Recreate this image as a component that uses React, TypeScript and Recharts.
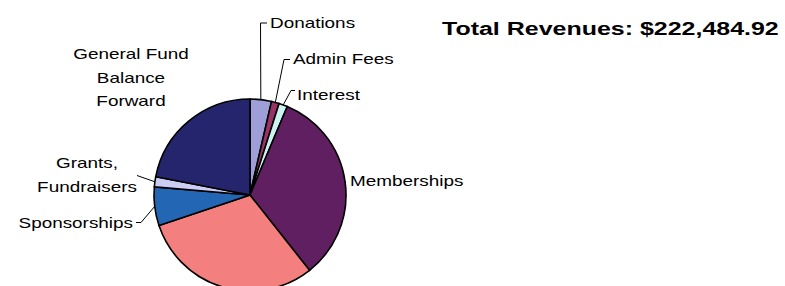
import React from "react";
import { PieChart, Pie, Cell } from "recharts";

const categories = [
  "Donations",
  "Admin Fees",
  "Interest",
  "Memberships",
  "Registrations",
  "Sponsorships",
  "Grants, Fundraisers",
  "General Fund Balance Forward",
];
const shares = [3.6, 1.3, 1.45, 33.0, 30.5, 6.5, 1.7, 21.95];
const colors = ["#9E9ED8", "#993366", "#CCF2F2", "#601F60", "#F47F7F", "#2366B3", "#CCCCF5", "#25256E"];
const labelLines: Record<string, string[]> = {
  Donations: ["Donations"],
  "Admin Fees": ["Admin Fees"],
  Interest: ["Interest"],
  Memberships: ["Memberships"],
  Sponsorships: ["Sponsorships"],
  "Grants, Fundraisers": ["Grants,", "Fundraisers"],
  "General Fund Balance Forward": ["General Fund", "Balance", "Forward"],
};
const title = "Total Revenues: $222,484.92";

const data = categories.map((name, i) => ({ name, value: shares[i] }));

// label layout (text anchor point, leader elbow points)
const layout: Record<string, { x: number; y: number; anchor: "start" | "middle" | "end"; elbow?: number[][] }> = {
  Donations: { x: 270, y: 27.5, anchor: "start", elbow: [[260.5, 23], [267, 23]] },
  "Admin Fees": { x: 293, y: 64, anchor: "start", elbow: [[284, 59.5], [290, 59.5]] },
  Interest: { x: 297, y: 100, anchor: "start", elbow: [[291, 90.5], [295, 90.5]] },
  Memberships: { x: 350, y: 186, anchor: "start" },
  Sponsorships: { x: 133, y: 228, anchor: "end", elbow: [[141, 222.5], [136, 222.5]] },
  "Grants, Fundraisers": { x: 87, y: 168, anchor: "middle", elbow: [[137, 175.5]] },
  "General Fund Balance Forward": { x: 131, y: 59, anchor: "middle" },
};

const SX = 1.35;
const FONT = "'Liberation Sans', Arial, sans-serif";

const RAD = Math.PI / 180;

const renderLabel = (props: any) => {
  const { cx, cy, midAngle, outerRadius, name } = props;
  const lay = layout[name];
  if (!lay) return null;
  const lines = labelLines[name] || [name];
  const ex = cx + outerRadius * Math.cos(-midAngle * RAD);
  const ey = cy + outerRadius * Math.sin(-midAngle * RAD);
  let path: string | null = null;
  if (lay.elbow) {
    path = `M${ex},${ey}` + lay.elbow.map((p) => ` L${p[0]},${p[1]}`).join("");
  }
  return (
    <g key={name}>
      {path && <path d={path} fill="none" stroke="#000" strokeWidth={1} />}
      {lines.map((ln, i) => (
        <text
          key={i}
          transform={`translate(${lay.x} ${lay.y + i * 23.5}) scale(${SX} 1)`}
          textAnchor={lay.anchor}
          fontFamily={FONT}
          fontSize={14}
          fill="#000"
        >
          {ln}
        </text>
      ))}
    </g>
  );
};

export default function App() {
  return (
    <div style={{ position: "absolute", left: 0, top: 0, width: 785, height: 286, background: "#fff" }}>
      <PieChart width={785} height={286} margin={{ top: 0, right: 0, bottom: 0, left: 0 }}>
        <Pie
          data={data}
          dataKey="value"
          nameKey="name"
          cx={250}
          cy={195}
          outerRadius={96}
          startAngle={90}
          endAngle={-270}
          stroke="#000"
          strokeWidth={1.6}
          label={renderLabel}
          labelLine={false}
          isAnimationActive={false}
        >
          {data.map((d, i) => (
            <Cell key={d.name} fill={colors[i]} />
          ))}
        </Pie>
      </PieChart>
      <svg width={785} height={286} style={{ position: "absolute", left: 0, top: 0, pointerEvents: "none" }}>
        <text
          transform={`translate(442 34.5) scale(1.35 1)`}
          fontFamily={FONT}
          fontWeight="bold"
          fontSize={18.5}
          fill="#000"
        >
          {title}
        </text>
      </svg>
    </div>
  );
}
